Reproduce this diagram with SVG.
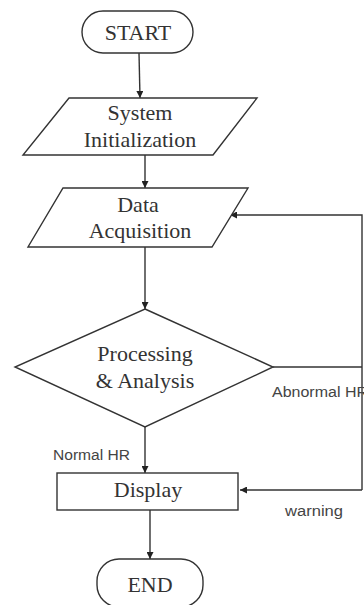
<svg xmlns="http://www.w3.org/2000/svg" width="364" height="605" viewBox="0 0 364 605">
<defs>
<marker id="ah" viewBox="0 0 10 10" refX="10" refY="5" markerWidth="7" markerHeight="7" markerUnits="userSpaceOnUse" orient="auto">
<path d="M0,0 L10,5 L0,10 z" fill="#222"/>
</marker>
<style>
.sh{fill:#fff;stroke:#333;stroke-width:1.4}
.ln{fill:none;stroke:#333;stroke-width:1.4;marker-end:url(#ah)}
.pl{fill:none;stroke:#333;stroke-width:1.4}
.t{font-family:"Liberation Serif","Times New Roman",serif;font-size:22px;fill:#333;text-anchor:middle}
.s{font-family:"Liberation Sans",Arial,sans-serif;font-size:14px;fill:#444}
</style>
</defs>
<rect width="364" height="605" fill="#fff"/>
<g id="connectors">
<line class="ln" x1="139" y1="53" x2="140" y2="98"/>
<line class="ln" x1="145" y1="155" x2="145" y2="188"/>
<line class="ln" x1="145" y1="247" x2="145" y2="309"/>
<line class="ln" x1="145" y1="427" x2="145" y2="473"/>
<line class="ln" x1="150" y1="510" x2="150" y2="559"/>
<polyline class="pl" points="273,367 362,367"/>
<polyline class="ln" points="362,490 362,215 230,215"/>
<line class="ln" x1="362" y1="490" x2="240" y2="490"/>
<text class="s" x="53" y="460" textLength="77" lengthAdjust="spacingAndGlyphs">Normal HR</text>
<text class="s" x="272" y="397" textLength="96" lengthAdjust="spacingAndGlyphs">Abnormal HR</text>
<text class="s" x="285" y="516" textLength="58" lengthAdjust="spacingAndGlyphs">warning</text>
</g>
<g id="start">
<rect class="sh" x="82" y="11" width="111" height="42" rx="21"/>
<text class="t" x="138" y="40">START</text>
</g>
<g id="init">
<polygon class="sh" points="69,98 257,98 213,155 23,155"/>
<text class="t" x="140" y="120">System</text>
<text class="t" x="140" y="147">Initialization</text>
</g>
<g id="acq">
<polygon class="sh" points="63,188 248,188 212,247 28,247"/>
<text class="t" x="138" y="212">Data</text>
<text class="t" x="140" y="238">Acquisition</text>
</g>
<g id="proc">
<polygon class="sh" points="145,309 273,367 145,427 15,367"/>
<text class="t" x="145" y="361">Processing</text>
<text class="t" x="145" y="388">&amp; Analysis</text>
</g>
<g id="display">
<rect class="sh" x="57" y="473" width="181" height="37"/>
<text class="t" x="148" y="497">Display</text>
</g>
<g id="end">
<rect class="sh" x="97" y="559" width="106" height="48" rx="22"/>
<text class="t" x="150" y="592">END</text>
</g>
</svg>
